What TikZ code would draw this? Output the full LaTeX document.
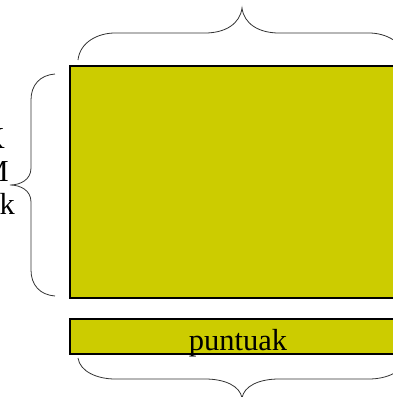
\documentclass[tikz,border=0pt]{standalone}
\usepackage{fontspec}
\setmainfont{Liberation Serif}
\usepackage{xcolor}
\definecolor{olive}{RGB}{204,204,0}

\begin{document}
\begin{tikzpicture}[x=1pt, y=-1pt,
  blk/.style={draw, line width=1.3pt, fill=olive, inner sep=0pt},
  brc/.style={draw=black!80, line width=0.8pt},
  lbl/.style={inner sep=0pt, font=\fontsize{30.5}{34}\selectfont}]
\useasboundingbox (0,0) rectangle (393,397);
\node[blk, minimum width=344pt, minimum height=232pt] (bulk) at (242,182) {};
\node[blk, minimum width=344pt, minimum height=35pt] (punt) at (242,336.5) {};
\node[lbl, anchor=base] (ptxt) at (238,350) {puntuak};
\node[lbl, anchor=base east] (lk) at (5,148) {K};
\node[lbl, anchor=base east] (lm) at (9,181) {M};
\node[lbl, anchor=base east] (lak) at (15,214) {ak};
% braces
\draw[brc] (78,60) .. controls (80,42) and (98,33) .. (115,33) -- (205,33)
  .. controls (225,33) and (240,24) .. (242,8) .. controls (244,24) and (259,33) .. (279,33)
  -- (369,33) .. controls (386,33) and (404,42) .. (406,60);
\draw[brc] (78,358) .. controls (80,372) and (98,379) .. (115,379) -- (205,379)
  .. controls (225,379) and (240,386) .. (242,398) .. controls (244,386) and (259,379) .. (279,379)
  -- (369,379) .. controls (386,379) and (404,372) .. (406,358);
\draw[brc] (55,74) .. controls (40,75) and (31,85) .. (31,100) -- (31,168)
  .. controls (31,180) and (20,185) .. (10,185) .. controls (20,185) and (31,190) .. (31,202)
  -- (31,270) .. controls (31,285) and (40,295) .. (55,296);
\end{tikzpicture}
\end{document}
